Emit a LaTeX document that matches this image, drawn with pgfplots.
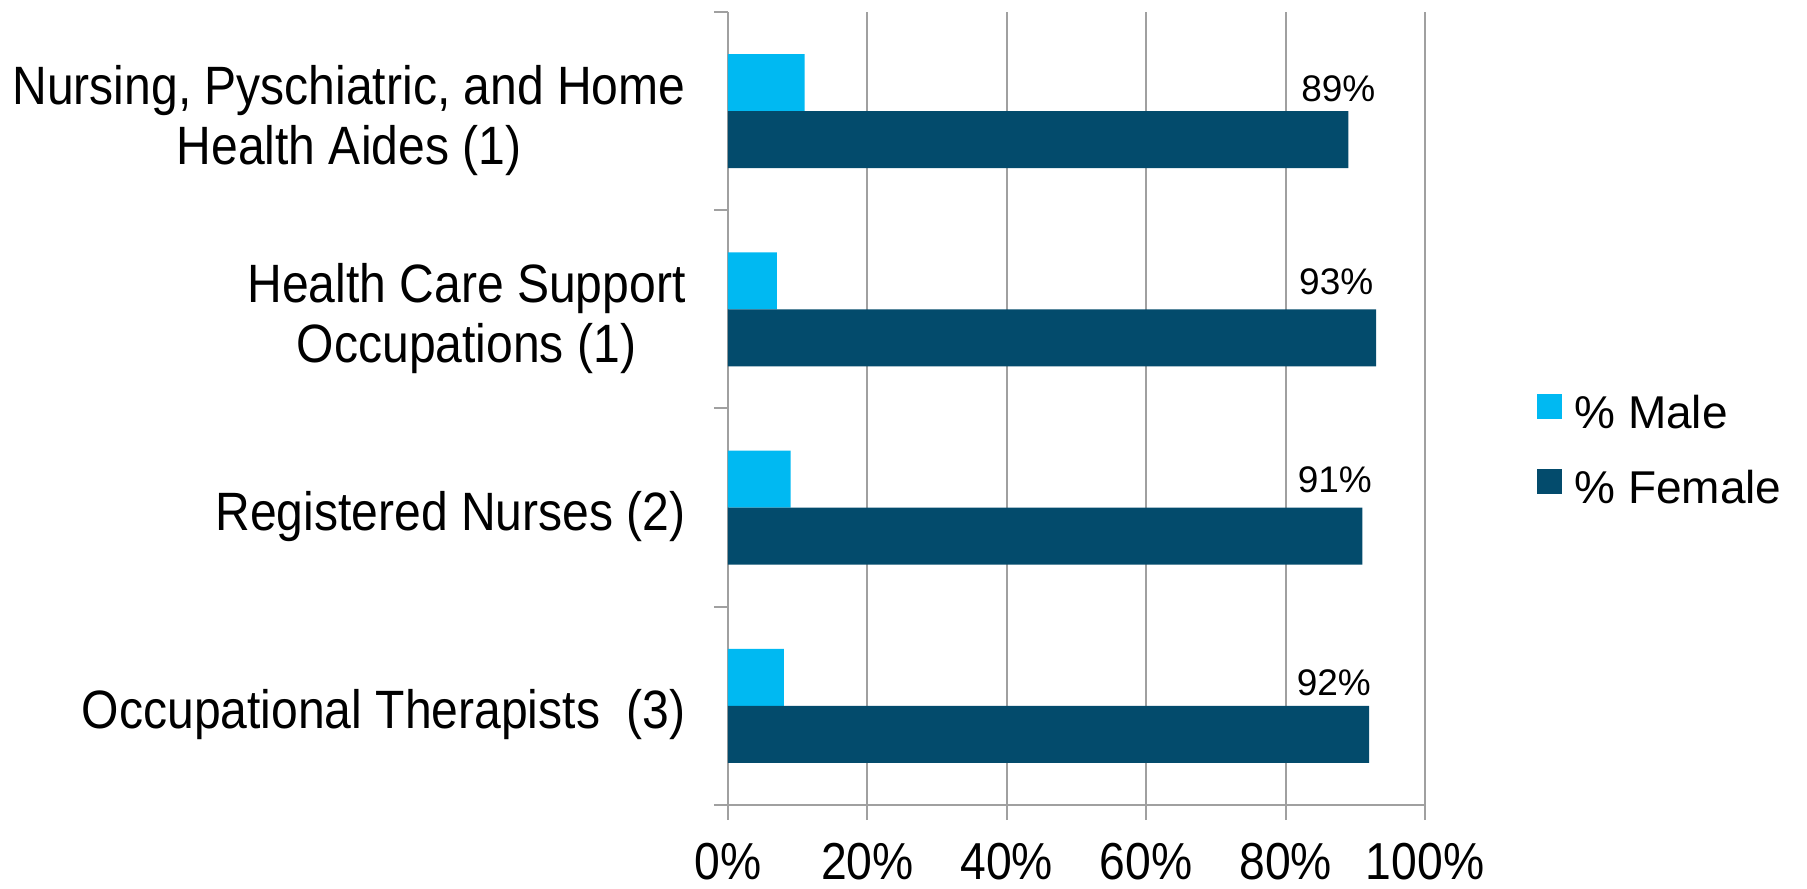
\documentclass[border=0pt]{standalone}
\usepackage{pgfplots}
\pgfplotsset{compat=1.18}
\usepackage{pgfplotstable}
\usepackage{fontspec}
\setmainfont{Liberation Sans}
\newfontfamily\narrowfont[FakeStretch=0.89]{Liberation Sans}
\definecolor{male}{HTML}{00B9F2}
\definecolor{female}{HTML}{034B6C}
\definecolor{gridgray}{HTML}{A0A0A0}

\pgfplotstableread{
y male female dx dy
3 11 89 -5 18.95
2 7 93 -20 21.75
1 9 91 -13.7 21.75
0 8 92 -17.7 19.25
}\data

\begin{document}
\begin{tikzpicture}
\begin{axis}[
  scale only axis, width=348.5pt, height=396.5pt,
  xbar, bar width=28.5pt,
  xmin=0, xmax=100, ymin=-0.5, ymax=3.5,
  axis x line*=bottom, axis y line*=left,
  axis line style={gridgray, line width=1pt},
  xtick={0,20,40,60,80,100},
  xticklabels={0\%,20\%,40\%,60\%,80\%,100\%},
  ytick={0,1,2,3},
  yticklabels={{Occupational Therapists\ \ (3)},{Registered Nurses (2)},{Health Care Support\\Occupations (1)},{Nursing, Pyschiatric, and Home\\Health Aides (1)}},
  minor ytick={-0.5,0.5,1.5,2.5,3.5},
  tick align=outside,
  major tick length=7.5pt, minor tick length=7pt,
  xtick style={gridgray, line width=1pt},
  major y tick style={draw=none},
  minor y tick style={draw=gridgray, line width=1pt},
  xmajorgrids, major grid style={gridgray, line width=1pt},
  xticklabel style={font=\narrowfont\fontsize{26}{30}\selectfont, anchor=base, inner sep=0pt, yshift=-29.5pt},
  yticklabel style={font=\narrowfont\fontsize{27}{30}\selectfont, align=center, anchor=east, inner sep=0pt, xshift=-13.5pt, yshift=-4.5pt},
  legend style={at={(axis description cs:1.1607,0.5183)}, anchor=north west, draw=none, fill=none,
    font=\fontsize{23}{27}\selectfont, inner sep=0pt, row sep=17.5pt,
    nodes={inner sep=0pt, text height=17pt, text depth=3pt, anchor=base west}},
  legend image code/.code={\fill[#1] (0pt,4.5pt) rectangle (12.5pt,17pt); \path (18.5pt,0pt);},
  legend cell align=left,
]
\addplot[fill=male, draw=none, bar shift=14.25pt] table[x=male, y=y] {\data};
\addlegendentry{\% Male}
\addplot[fill=female, draw=none, bar shift=-14.25pt,
  visualization depends on={\thisrow{dx} \as \dx},
  visualization depends on={\thisrow{dy} \as \dy},
  nodes near coords={\pgfmathprintnumber[assume math mode=true]{\pgfplotspointmeta}\%},
  point meta=x,
  every node near coord/.append style={font=\fontsize{18.5}{22}\selectfont, black, anchor=base, inner sep=0pt, xshift=\dx pt, yshift=\dy pt}
] table[x=female, y=y] {\data};
\addlegendentry{\% Female}
\end{axis}
\pgfresetboundingbox
\useasboundingbox (-364pt,-41.5pt) rectangle (539.5pt,402.5pt);
\end{tikzpicture}
\end{document}
